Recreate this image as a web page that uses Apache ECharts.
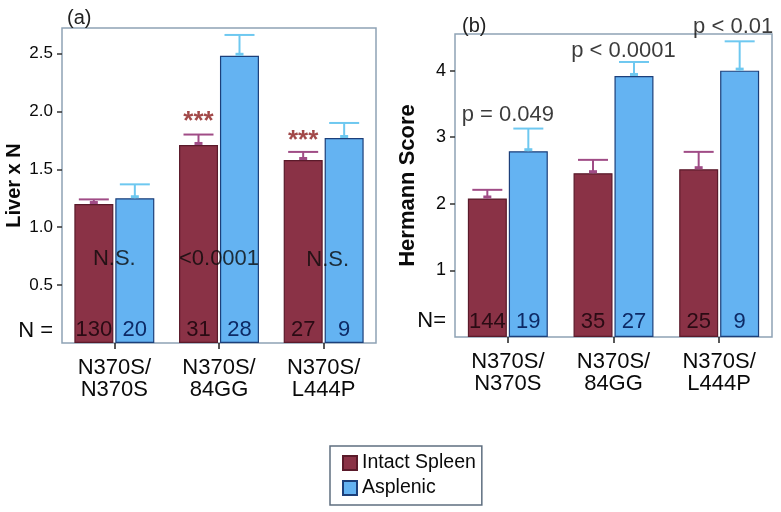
<!DOCTYPE html>
<html>
<head>
<meta charset="utf-8">
<script src="https://cdn.jsdelivr.net/npm/echarts@6/dist/echarts.min.js"></script>
<style>
  html, body { margin: 0; padding: 0; background: #fff; }
  #chart { width: 781px; height: 512px; }
</style>
</head>
<body>
<div id="chart"></div>
<script>
// genotype groups
const categories = ["N370S/\nN370S", "N370S/\n84GG", "N370S/\nL444P"];

// panel (a) Liver x N: means and upper error (mean + SE)
const liverIntact = [1.20, 1.71, 1.58];
const liverIntactUpper = [1.24, 1.80, 1.65];
const liverAsplenic = [1.25, 2.48, 1.77];
const liverAsplenicUpper = [1.37, 2.66, 1.90];
const liverNIntact = [130, 31, 27];
const liverNAsplenic = [20, 28, 9];
const liverPText = ["N.S.", "<0.0001", "N.S."];
const liverPLevel = [0.73, 0.73, 0.72];
const liverStars = ["", "***", "***"];
const liverStarLevel = [0, 1.91, 1.75];
const liverTicks = [0.5, 1.0, 1.5, 2.0, 2.5];

// panel (b) Hermann score
const hermannIntact = [2.08, 2.46, 2.52];
const hermannIntactUpper = [2.21, 2.66, 2.78];
const hermannAsplenic = [2.79, 3.92, 4.00];
const hermannAsplenicUpper = [3.13, 4.13, 4.44];
const hermannNIntact = [144, 35, 25];
const hermannNAsplenic = [19, 27, 9];
const hermannPText = ["p = 0.049", "p < 0.0001", "p < 0.01"];
const hermannPLevel = [3.33, 4.30, 4.66];
const hermannTicks = [1, 2, 3, 4];

const FONT = "Liberation Sans, Arial, sans-serif";
const INK = "#0a0a0a";
const INTACT = "#8a3246";
const ASPLENIC = "#64b3f2";
const HALF = 20.5; // half of bar width + gap

const chart = echarts.init(document.getElementById("chart"));

function errorBars(name, means, uppers, color, dx, axis) {
  return {
    type: "custom",
    name: name,
    xAxisIndex: axis,
    yAxisIndex: axis,
    silent: true,
    z: 5,
    data: means.map((m, i) => [i, m, uppers[i]]),
    renderItem: (params, api) => {
      const base = api.coord([api.value(0), api.value(1)]);
      const top = api.coord([api.value(0), api.value(2)]);
      const x = base[0] + dx;
      const style = { stroke: color, lineWidth: 2 };
      return {
        type: "group",
        children: [
          { type: "line", shape: { x1: x, y1: base[1], x2: x, y2: top[1] }, style },
          { type: "line", shape: { x1: x - 15, y1: top[1], x2: x + 15, y2: top[1] }, style },
          { type: "rect", shape: { x: x - 4, y: base[1] - 3, width: 8, height: 3 }, style: { fill: color } }
        ]
      };
    }
  };
}

function barSeries(name, values, nums, color, border, textColor, axis, dist) {
  return {
    type: "bar",
    name: name,
    xAxisIndex: axis,
    yAxisIndex: axis,
    data: values,
    barWidth: 39,
    barGap: "5%",
    itemStyle: { color: color, borderColor: border, borderWidth: 1.2 },
    label: {
      show: true,
      position: "insideBottom",
      distance: dist,
      formatter: (p) => String(nums[p.dataIndex]),
      fontFamily: FONT,
      fontSize: 22,
      color: textColor
    }
  };
}

function textSeries(texts, levels, offsets, axis, style) {
  return {
    type: "scatter",
    xAxisIndex: axis,
    yAxisIndex: axis,
    symbolSize: 0,
    silent: true,
    clip: false,
    z: 10,
    data: texts.map((t, i) => ({
      value: [i, levels[i]],
      label: { formatter: t, offset: offsets[i] }
    })).filter((d) => d.label.formatter !== ""),
    label: Object.assign({ show: true, position: "inside", fontFamily: FONT }, style)
  };
}

function yAxis(gridIndex, max, ticks, nLevel, name, nameSize, labelSize, nameGap, fmt) {
  return {
    type: "value",
    gridIndex: gridIndex,
    min: 0,
    max: max,
    splitLine: { show: false },
    axisLine: { show: false },
    axisTick: { show: true, length: 5, customValues: ticks, lineStyle: { color: "#333", width: 1.5 } },
    axisLabel: {
      customValues: [nLevel].concat(ticks),
      margin: 9,
      fontFamily: FONT,
      fontSize: labelSize,
      color: INK,
      formatter: (v) => (Math.abs(v - nLevel) < 1e-6 ? "{n|" + (gridIndex === 0 ? "N =" : "N=") + "}" : fmt(v)),
      rich: { n: { fontFamily: FONT, fontSize: 22, color: INK } }
    },
    name: name,
    nameLocation: "middle",
    nameGap: nameGap,
    nameMoveOverlap: false,
    nameTextStyle: { fontFamily: FONT, fontSize: nameSize, fontWeight: "bold", color: INK }
  };
}

function xAxis(gridIndex) {
  return {
    type: "category",
    gridIndex: gridIndex,
    data: categories,
    axisLine: { show: false },
    axisTick: { show: true, alignWithLabel: true, length: 6, lineStyle: { color: "#222", width: 1.5 } },
    axisLabel: { margin: 14, fontFamily: FONT, fontSize: 22, lineHeight: 22, color: INK }
  };
}

const option = {
  animation: false,
  backgroundColor: "#fff",
  title: [
    { text: "(a)", left: 62, top: 3, textStyle: { fontFamily: FONT, fontSize: 20, fontWeight: "normal", color: "#222" } },
    { text: "(b)", left: 457, top: 11, textStyle: { fontFamily: FONT, fontSize: 20, fontWeight: "normal", color: "#222" } }
  ],
  legend: {
    orient: "vertical",
    left: 330,
    top: 446,
    padding: [7, 6, 7, 12],
    itemGap: 5,
    itemWidth: 14,
    itemHeight: 14,
    icon: "rect",
    borderColor: "#5f6f80",
    borderWidth: 1.5,
    data: ["Intact Spleen", "Asplenic"],
    textStyle: { fontFamily: FONT, fontSize: 19.5, color: INK }
  },
  grid: [
    { left: 62, top: 28, width: 314, height: 315, outerBoundsMode: "none", show: true, borderColor: "#8ea3b5", borderWidth: 1.5 },
    { left: 455, top: 34, width: 317, height: 303, outerBoundsMode: "none", show: true, borderColor: "#8ea3b5", borderWidth: 1.5 }
  ],
  xAxis: [xAxis(0), xAxis(1)],
  yAxis: [
    yAxis(0, 2.72, liverTicks, 0.1, "Liver x N", 20, 17, 38, (v) => v.toFixed(1)),
    yAxis(1, 4.55, hermannTicks, 0.234, "Hermann Score", 22, 18, 36, (v) => String(v))
  ],
  series: [
    barSeries("Intact Spleen", liverIntact, liverNIntact, INTACT, "#5a1a2a", "#2a0b14", 0, 2),
    barSeries("Asplenic", liverAsplenic, liverNAsplenic, ASPLENIC, "#1c3f7a", "#0d2a66", 0, 2),
    errorBars("errA1", liverIntact, liverIntactUpper, "#a04c86", -HALF, 0),
    errorBars("errA2", liverAsplenic, liverAsplenicUpper, "#6ec8f0", HALF, 0),
    textSeries(liverPText, liverPLevel, [[0, 0], [0, 0], [4, 0]], 0, { fontSize: 22, color: INK }),
    textSeries(liverStars, liverStarLevel, [[0, 0], [-HALF, 0], [-HALF, 0]], 0, { fontSize: 26, fontWeight: "bold", color: "#8b1c1c" }),

    barSeries("Intact Spleen", hermannIntact, hermannNIntact, INTACT, "#5a1a2a", "#2a0b14", 1, 4),
    barSeries("Asplenic", hermannAsplenic, hermannNAsplenic, ASPLENIC, "#1c3f7a", "#0d2a66", 1, 4),
    errorBars("errB1", hermannIntact, hermannIntactUpper, "#a04c86", -HALF, 1),
    errorBars("errB2", hermannAsplenic, hermannAsplenicUpper, "#6ec8f0", HALF, 1),
    textSeries(hermannPText, hermannPLevel, [[0, 0], [10, 0], [14, 0]], 1, { fontSize: 22, color: INK })
  ]
};

chart.setOption(option);
window.addEventListener("resize", () => chart.resize());
</script>
</body>
</html>
